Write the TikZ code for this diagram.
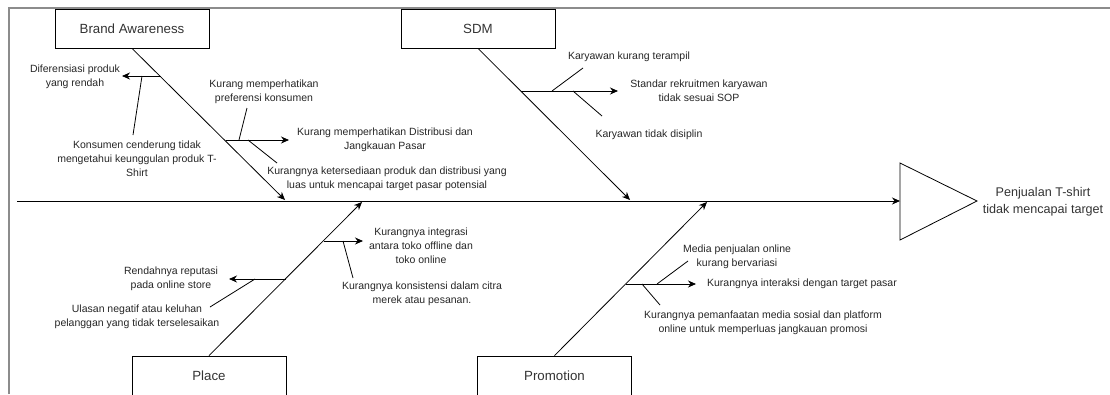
\documentclass[tikz,border=0pt]{standalone}
\usepackage{fontspec}
\setmainfont{Liberation Sans}
\usetikzlibrary{arrows.meta}
\begin{document}
\begin{tikzpicture}[x=1pt,y=-1pt,
  bone/.style={draw=black, line width=0.8pt, -{Stealth[length=8pt,width=7pt]}},
  twig/.style={draw=black, line width=0.8pt},
  frame/.style={draw=black!45, line width=1.6pt},
  lbl/.style={font=\fontsize{10.5}{14}\selectfont, align=center, inner sep=0pt, text=black!85},
  cat/.style={draw=black, line width=0.8pt, minimum width=154pt, minimum height=39pt, font=\fontsize{13.3}{16}\selectfont, inner sep=0pt, text=black!80},
  headtxt/.style={font=\fontsize{12.6}{17}\selectfont, align=center, inner sep=0pt, text=black!80},
]
\useasboundingbox (0,0) rectangle (1110,394);
% frame
\coordinate (fa) at (9,394);
\coordinate (fb) at (9,8);
\coordinate (fc) at (1111,8);
\draw[frame] (fa) -- (fb) -- (fc);

% head
\coordinate (t1) at (900,163);
\coordinate (t2) at (900,240);
\coordinate (t3) at (977,201);
\draw[line width=0.8pt] (t1) -- (t2) -- (t3) -- cycle;
\node[headtxt] (effect) at (1043,202) {Penjualan T-shirt\\tidak mencapai target};

% spine
\coordinate (tail) at (17,201);
\coordinate (head) at (900,201);
\draw[bone] (tail) -- (head);

% category boxes
\node[cat] (brand) at (132,28.5) {Brand Awareness};
\node[cat] (sdm) at (478,28.5) {SDM};
\node[cat] (place) at (209,375.5) {Place};
\node[cat] (promo) at (554.5,375.5) {Promotion};

% bones
\coordinate (bE) at (285,200);
\coordinate (sE) at (630,200);
\coordinate (pE) at (362,202);
\coordinate (qE) at (707,202);
\draw[bone] (brand.south) -- (bE);
\draw[bone] (sdm.south) -- (sE);
\draw[bone] (place.north) -- (pE);
\draw[bone] (promo.north) -- (qE);

% ---- Brand Awareness
\coordinate (ba1) at (161,76);
\coordinate (ba1e) at (122,76);
\draw[bone] (ba1) -- (ba1e);
\node[lbl] (l1) at (75,77) {Diferensiasi produk\\yang rendah};
\coordinate (ba1s) at (142,76);
\coordinate (ba1t) at (133,135);
\draw[twig] (ba1s) -- (ba1t);
\node[lbl] (l2) at (137,159) {Konsumen cenderung tidak\\mengetahui keunggulan produk T-\\Shirt};
\coordinate (ba2) at (226,140);
\coordinate (ba2e) at (289,140);
\draw[bone] (ba2) -- (ba2e);
\node[lbl] (l3) at (385,140) {Kurang memperhatikan Distribusi dan\\Jangkauan Pasar};
\coordinate (ba2a) at (239,140);
\coordinate (ba2at) at (247,108);
\draw[twig] (ba2a) -- (ba2at);
\node[lbl] (l4) at (264,92) {Kurang memperhatikan\\preferensi konsumen};
\coordinate (ba2b) at (248,140);
\coordinate (ba2bt) at (277,163);
\draw[twig] (ba2b) -- (ba2bt);
\node[lbl] (l5) at (387,179) {Kurangnya ketersediaan produk dan distribusi yang\\luas untuk mencapai target pasar potensial};

% ---- SDM
\coordinate (s1) at (521,91);
\coordinate (s1e) at (618,91);
\draw[bone] (s1) -- (s1e);
\node[lbl] (l6) at (699,91) {Standar rekruitmen karyawan\\tidak sesuai SOP};
\coordinate (s1a) at (552,91);
\coordinate (s1at) at (583,68);
\draw[twig] (s1a) -- (s1at);
\node[lbl] (l7) at (629,57) {Karyawan kurang terampil};
\coordinate (s1b) at (573,91);
\coordinate (s1bt) at (602,116);
\draw[twig] (s1b) -- (s1bt);
\node[lbl] (l8) at (649,135) {Karyawan tidak disiplin};

% ---- Place
\coordinate (p1) at (286,279);
\coordinate (p1e) at (229,279);
\draw[bone] (p1) -- (p1e);
\node[lbl] (l9) at (171,279) {Rendahnya reputasi\\pada online store};
\coordinate (p1a) at (255,279);
\coordinate (p1at) at (210,307);
\draw[twig] (p1a) -- (p1at);
\node[lbl] (l10) at (137,317) {Ulasan negatif atau keluhan\\pelanggan yang tidak terselesaikan};
\coordinate (p2) at (324,241);
\coordinate (p2e) at (363,241);
\draw[bone] (p2) -- (p2e);
\node[lbl] (l11) at (421,246) {Kurangnya integrasi\\antara toko offline dan\\toko online};
\coordinate (p2a) at (343,241);
\coordinate (p2at) at (353,278);
\draw[twig] (p2a) -- (p2at);
\node[lbl] (l12) at (422,294) {Kurangnya konsistensi dalam citra\\merek atau pesanan.};

% ---- Promotion
\coordinate (q1) at (626,284);
\coordinate (q1e) at (696,284);
\draw[bone] (q1) -- (q1e);
\node[lbl] (l13) at (802,284) {Kurangnya interaksi dengan target pasar};
\coordinate (q1a) at (657,284);
\coordinate (q1at) at (688,261);
\draw[twig] (q1a) -- (q1at);
\node[lbl] (l14) at (737,257) {Media penjualan online\\kurang bervariasi};
\coordinate (q1b) at (642,284);
\coordinate (q1bt) at (660,305);
\draw[twig] (q1b) -- (q1bt);
\node[lbl] (l15) at (763,323) {Kurangnya pemanfaatan media sosial dan platform\\online untuk memperluas jangkauan promosi};
\end{tikzpicture}
\end{document}
